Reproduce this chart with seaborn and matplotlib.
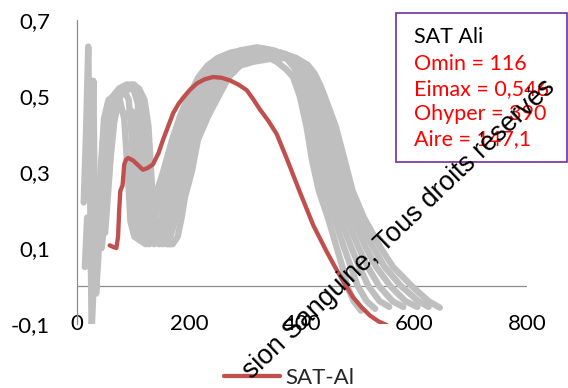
import matplotlib
matplotlib.use("Agg")
import matplotlib.pyplot as plt
from matplotlib.lines import Line2D
from matplotlib.patches import Rectangle
import seaborn as sns
import pandas as pd

# ---------------- data ----------------
sat_x = [58, 64, 70, 73, 75, 77, 81, 84, 87, 91, 100, 110, 117, 125, 135, 145, 153, 162,
         171, 180, 188, 200, 213, 227, 242, 257, 272, 287, 302, 314, 325, 340, 355, 373,
         396, 420, 444, 458, 471, 491, 506, 521, 536, 551]
sat_y = [0.107, 0.103, 0.100, 0.13, 0.20, 0.25, 0.265, 0.32, 0.332, 0.337, 0.33, 0.316,
         0.306, 0.310, 0.32, 0.35, 0.385, 0.42, 0.455, 0.478, 0.494, 0.515, 0.533, 0.544,
         0.55, 0.548, 0.541, 0.53, 0.515, 0.49, 0.465, 0.435, 0.40, 0.335, 0.248, 0.16,
         0.09, 0.052, 0.018, -0.03, -0.056, -0.078, -0.093, -0.103]

ref1_x = [12, 16, 20, 23, 26, 30, 36, 42, 48, 56, 66, 76, 84, 90, 95, 102, 112, 122, 130,
          139, 153, 169, 184, 199, 216, 232, 250, 275, 300, 330, 355, 372, 384, 396, 408,
          418, 430, 446, 462, 472, 480, 492, 505]
ref1_y = [0.22, 0.40, 0.63, 0.30, -0.12, 0.02, 0.15, 0.30, 0.44, 0.49, 0.50, 0.49, 0.44,
          0.30, 0.17, 0.13, 0.12, 0.13, 0.17, 0.235, 0.30, 0.385, 0.45, 0.50, 0.55, 0.58,
          0.60, 0.615, 0.62, 0.61, 0.59, 0.57, 0.55, 0.50, 0.42, 0.33, 0.25, 0.18, 0.10,
          0.05, 0.0, -0.04, -0.065]

ref2_x = [24, 27, 29, 31, 34, 38, 44, 50, 58, 70, 82, 92, 97, 101, 105, 112, 122, 132, 140,
          148, 161, 177, 192, 208, 225, 242, 262, 290, 320, 350, 372, 386, 392, 403, 417,
          428, 440, 457, 475, 487, 499, 515, 530]
ref2_y = [0.10, 0.35, 0.54, 0.30, -0.02, 0.08, 0.25, 0.40, 0.48, 0.51, 0.52, 0.49, 0.40,
          0.28, 0.17, 0.12, 0.11, 0.14, 0.19, 0.235, 0.30, 0.385, 0.45, 0.50, 0.55, 0.58,
          0.605, 0.62, 0.628, 0.62, 0.60, 0.575, 0.55, 0.50, 0.42, 0.33, 0.25, 0.18, 0.10,
          0.05, 0.0, -0.04, -0.06]

ref3_x = [14, 18, 22, 27, 33, 40, 46, 53, 62, 74, 86, 98, 104, 108, 112, 118, 128, 140, 150,
          157, 170, 184, 201, 217, 234, 251, 270, 300, 330, 360, 382, 394, 400, 411, 425,
          437, 450, 467, 488, 502, 518, 538, 555]
ref3_y = [0.05, 0.18, 0.10, 0.0, 0.10, 0.22, 0.38, 0.46, 0.49, 0.47, 0.45, 0.46, 0.42,
          0.30, 0.18, 0.13, 0.11, 0.12, 0.18, 0.235, 0.30, 0.385, 0.45, 0.50, 0.55, 0.58,
          0.605, 0.62, 0.625, 0.615, 0.595, 0.575, 0.55, 0.50, 0.42, 0.33, 0.25, 0.18, 0.10,
          0.05, 0.0, -0.04, -0.055]

ref4_x = [32, 36, 40, 45, 50, 56, 64, 75, 88, 100, 108, 113, 116, 120, 127, 137, 148, 158,
          165, 178, 192, 209, 225, 243, 261, 282, 310, 345, 372, 392, 402, 408, 418, 434,
          447, 460, 478, 501, 517, 537, 561, 580]
ref4_y = [0.20, 0.12, 0.16, 0.26, 0.36, 0.45, 0.50, 0.52, 0.53, 0.52, 0.48, 0.38, 0.26,
          0.17, 0.13, 0.11, 0.12, 0.17, 0.235, 0.30, 0.385, 0.45, 0.50, 0.55, 0.58, 0.605,
          0.618, 0.62, 0.61, 0.59, 0.57, 0.55, 0.50, 0.42, 0.33, 0.25, 0.18, 0.10, 0.05,
          0.0, -0.04, -0.055]

ref5_x = [38, 43, 48, 54, 61, 70, 82, 95, 106, 114, 119, 123, 128, 136, 146, 156, 165, 174,
          187, 200, 217, 234, 252, 271, 295, 325, 355, 380, 400, 410, 416, 425, 443, 457,
          470, 489, 514, 532, 557, 584, 605]
ref5_y = [0.12, 0.20, 0.30, 0.40, 0.47, 0.50, 0.51, 0.52, 0.51, 0.46, 0.36, 0.24, 0.16,
          0.12, 0.11, 0.12, 0.17, 0.235, 0.30, 0.385, 0.45, 0.50, 0.55, 0.58, 0.60, 0.612,
          0.615, 0.605, 0.585, 0.565, 0.55, 0.50, 0.42, 0.33, 0.25, 0.18, 0.10, 0.05, 0.0,
          -0.04, -0.055]

ref6_x = [44, 49, 54, 60, 68, 78, 90, 102, 112, 120, 125, 129, 134, 142, 152, 163, 174, 183,
          195, 207, 226, 243, 261, 280, 305, 335, 365, 390, 408, 418, 424, 433, 451, 466,
          480, 499, 527, 547, 576, 607, 625]
ref6_y = [0.10, 0.18, 0.30, 0.40, 0.47, 0.51, 0.53, 0.53, 0.51, 0.45, 0.35, 0.24, 0.16,
          0.12, 0.11, 0.115, 0.17, 0.235, 0.30, 0.385, 0.45, 0.50, 0.55, 0.58, 0.598, 0.607,
          0.61, 0.60, 0.58, 0.56, 0.55, 0.50, 0.42, 0.33, 0.25, 0.18, 0.10, 0.05, 0.0,
          -0.04, -0.055]

ref7_x = [50, 55, 60, 66, 74, 85, 98, 110, 120, 127, 131, 135, 140, 150, 160, 170, 179, 186,
          192, 204, 215, 234, 252, 270, 290, 313, 345, 375, 395, 410, 422, 432, 440, 460,
          476, 490, 510, 540, 562, 595, 625, 645]
ref7_y = [0.14, 0.24, 0.34, 0.43, 0.49, 0.52, 0.53, 0.52, 0.49, 0.42, 0.32, 0.22, 0.15,
          0.12, 0.11, 0.11, 0.13, 0.18, 0.235, 0.30, 0.385, 0.45, 0.50, 0.55, 0.58, 0.59,
          0.598, 0.60, 0.595, 0.582, 0.56, 0.53, 0.50, 0.42, 0.33, 0.25, 0.18, 0.10, 0.05,
          0.0, -0.04, -0.057]

ref_xs = [ref1_x, ref2_x, ref3_x, ref4_x, ref5_x, ref6_x, ref7_x]
ref_ys = [ref1_y, ref2_y, ref3_y, ref4_y, ref5_y, ref6_y, ref7_y]

x_ticks = [0, 200, 400, 600, 800]
y_ticks = [-0.1, 0.1, 0.3, 0.5, 0.7]
y_tick_labels = ["-0,1", "0,1", "0,3", "0,5", "0,7"]
series_label = "SAT-Al"
box_title = "SAT Ali"
box_lines = ["Omin = 116", "Eimax = 0,546", "Ohyper = 390", "Aire = 147,1"]
watermark = "sion Sanguine, Tous droits réservés"

# ---------------- styling ----------------
sns.set_theme(style="white")
plt.rcParams["font.family"] = ["Lato", "DejaVu Sans"]

GREY = "#BFBFBF"
RED = "#C0504D"
AXIS = "#8C8C8C"

fig = plt.figure(figsize=(5.68, 3.88), dpi=100)
W, H = 568, 388
ax = fig.add_axes([77 / W, (H - 324) / H, 450 / W, 304 / H])

for xs, ys in zip(ref_xs, ref_ys):
    df = pd.DataFrame({"x": xs, "y": ys})
    sns.lineplot(data=df, x="x", y="y", sort=False, estimator=None, ax=ax,
                 color=GREY, linewidth=4.6, solid_capstyle="round",
                 solid_joinstyle="round", zorder=2)

df_sat = pd.DataFrame({"x": sat_x, "y": sat_y})
sns.lineplot(data=df_sat, x="x", y="y", sort=False, estimator=None, ax=ax,
             color=RED, linewidth=3.1, solid_capstyle="round",
             solid_joinstyle="round", zorder=4)

ax.set_xlim(0, 800)
ax.set_ylim(-0.1, 0.7)
ax.set_xlabel("")
ax.set_ylabel("")
ax.set_xticks(x_ticks)
ax.set_xticklabels([str(v) for v in x_ticks])
ax.set_yticks(y_ticks)
ax.set_yticklabels(y_tick_labels)
ax.tick_params(axis="x", length=0, pad=-7.5, labelsize=16, labelcolor="black")
ax.tick_params(axis="y", length=0, pad=19.5, labelsize=16, labelcolor="black")
ax.grid(False)
ax.set_facecolor("none")
for s in ["top", "right", "bottom"]:
    ax.spines[s].set_visible(False)
ax.spines["left"].set_color(AXIS)
ax.spines["left"].set_linewidth(0.9)
ax.axhline(0, color=AXIS, linewidth=0.9, zorder=1)

# legend
handle = Line2D([], [], color=RED, linewidth=3.1, solid_capstyle="round")
fig.legend([handle], [series_label], loc="center", bbox_to_anchor=(289 / W, 10 / H),
           frameon=False, fontsize=16, handlelength=2.5, handletextpad=0.25,
           borderpad=0, borderaxespad=0)

# info box
fig.patches.append(Rectangle((396 / W, (H - 162) / H), 171 / W, 149 / H,
                             transform=fig.transFigure, facecolor="white",
                             edgecolor="#7030A0", linewidth=1.2, zorder=5))
fig.text(414 / W, (H - 43) / H, box_title, fontsize=15.5, color="black",
         va="baseline", ha="left", zorder=6)
for k, line in enumerate(box_lines):
    fig.text(414 / W, (H - 70 - 25 * k) / H, line, fontsize=15.5, color="#FF0000",
             va="baseline", ha="left", zorder=6)

# watermark
fig.text(252 / W, (H - 380) / H, watermark, fontsize=19.2, rotation=43.7,
         rotation_mode="anchor", ha="left", va="baseline", color="black",
         family=["Liberation Sans", "DejaVu Sans"], zorder=10)

fig.savefig("out.png", dpi=100)
